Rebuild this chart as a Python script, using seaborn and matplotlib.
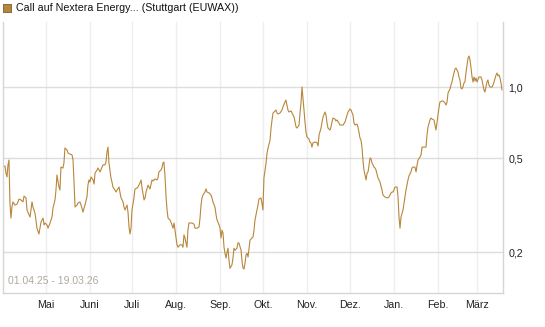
#! /usr/bin/env python3
# imports
import matplotlib
matplotlib.use('Agg')
import matplotlib.pyplot as plt
from matplotlib.patches import Rectangle
from matplotlib.ticker import FixedLocator, NullLocator
import numpy as np
import pandas as pd
import seaborn as sns

# data: days since 01.04.25 and price (EUR)
days = [
    0.0, 1.4, 2.1, 2.8, 3.5, 4.2, 4.9, 5.6, 6.3, 7.0, 8.4, 9.9, 11.3, 12.7, 14.1, 14.8,
    16.2, 16.9, 18.3, 19.0, 19.7, 20.4, 21.1, 22.5, 23.2, 23.9, 25.3, 26.0, 26.8, 28.2,
    28.9, 29.6, 31.0, 31.7, 33.1, 34.5, 35.2, 36.6, 37.3, 38.0, 39.4, 40.1, 40.8, 42.2,
    42.9, 43.6, 45.1, 45.8, 47.2, 48.6, 49.3, 50.0, 50.7, 52.1, 52.8, 54.2, 55.6, 56.3,
    57.7, 59.1, 59.8, 60.5,
    61.2, 62.0, 63.4, 64.1, 64.8, 66.2, 66.9, 68.3, 69.7, 70.4, 71.8, 72.5, 73.2, 73.9,
    74.6, 76.0, 76.7, 77.4, 78.8, 79.6, 80.3, 81.7, 82.4, 83.1, 84.5, 85.2, 85.9, 87.3,
    88.0, 88.7, 89.4, 90.1, 90.8, 92.2, 92.9, 94.3, 95.0, 96.4, 97.2, 97.9, 99.3, 100.0,
    100.7, 102.1, 102.8, 103.5, 104.9, 105.6, 107.0, 108.4, 109.1, 109.8, 111.2, 111.9,
    112.6, 113.3, 114.0, 114.8, 115.5, 116.2, 117.6, 119.0, 119.7, 120.4,
    121.8, 122.5, 123.2, 124.6, 126.0, 126.7, 127.4, 128.1, 129.5, 130.2, 130.9, 133.1,
    134.5, 135.2, 136.6, 138.0, 138.7, 139.4, 140.1, 140.8, 142.2, 142.9, 143.6, 145.0,
    146.4, 147.1, 147.8, 149.2, 150.0, 150.7, 152.1, 152.8, 153.5, 154.2, 154.9, 155.6,
    156.3, 157.0, 157.7, 158.4, 159.1, 159.8, 161.2, 161.9, 162.6, 163.3, 164.7, 165.4,
    166.1, 167.6, 168.3, 169.0, 169.7, 170.4, 171.1, 171.8, 172.5, 173.2, 173.9, 175.3,
    176.0, 176.7, 177.4, 178.8, 179.5, 180.2,
    181.6, 182.3, 183.0, 183.7, 185.2, 185.9, 186.6, 188.0, 188.7, 189.4, 190.1, 190.8,
    192.2, 192.9, 193.6, 195.0, 196.4, 197.1, 198.5, 199.2, 199.9, 200.6, 201.3, 202.8,
    203.5, 204.9, 205.6, 206.3, 207.0, 208.4, 209.1, 209.8, 210.5, 211.2, 211.9, 212.6,
    213.3, 214.0, 215.4, 216.1, 216.8, 217.5, 218.2, 219.6, 220.4, 221.1, 221.8, 222.5,
    223.9, 224.6, 225.3, 226.7, 227.4, 228.1, 228.8, 230.2, 230.9, 231.6, 232.3, 233.7,
    234.4, 235.1, 236.5, 237.2, 238.7, 239.4, 240.8,
    242.2, 242.9, 244.3, 245.0, 246.4, 247.1, 247.8, 249.2, 249.9, 250.6, 251.3, 252.0,
    252.7, 253.4, 254.1, 255.6, 256.3, 257.0, 257.7, 258.4, 259.1, 259.8, 261.2, 261.9,
    262.6, 264.0, 264.7, 265.4, 266.8, 267.5, 268.2, 268.9, 270.3, 271.0, 271.7, 273.2,
    273.9, 274.6, 276.0, 277.4, 278.1, 278.8, 279.5, 280.2, 281.6, 282.3, 283.0, 283.7,
    284.4, 285.1, 285.8, 287.2, 287.9, 288.6, 290.0, 290.8, 291.5, 292.2, 293.6, 294.3,
    295.0, 296.4, 297.8,
    298.5, 299.2, 300.6, 301.3, 302.0, 303.4, 304.1, 304.8, 305.5, 306.2, 306.9, 307.6,
    309.1, 309.8, 311.2, 311.9, 312.6, 313.3, 314.7, 315.4, 316.1, 316.8, 317.5, 318.2,
    318.9, 320.3, 321.0, 321.7, 322.4, 323.1, 323.8, 324.5, 325.2, 326.0, 326.7, 327.4,
    328.1, 328.8, 329.5, 330.2, 330.9, 331.6, 332.3, 333.0, 333.7, 335.1, 335.8, 336.5,
    337.2, 337.9, 338.6, 339.3, 340.0, 340.7, 341.4, 342.1, 342.8, 344.3, 345.0, 345.7,
    347.1, 347.8, 348.5, 349.2, 349.9, 350.6, 351.3,
]
price = [
    0.459, 0.464, 0.433, 0.417, 0.469, 0.492, 0.323, 0.279, 0.311, 0.327, 0.317, 0.320,
    0.336, 0.333, 0.327, 0.346, 0.340, 0.302, 0.288, 0.282, 0.302, 0.327, 0.311, 0.293,
    0.274, 0.253, 0.239, 0.253, 0.269, 0.279, 0.261, 0.266, 0.261, 0.253, 0.266, 0.282,
    0.308, 0.333, 0.367, 0.425, 0.378, 0.367, 0.459, 0.455, 0.478, 0.553, 0.542, 0.527,
    0.521, 0.517, 0.492, 0.397, 0.311, 0.317, 0.323, 0.327, 0.308, 0.296, 0.317, 0.343,
    0.385, 0.405,
    0.397, 0.417, 0.405, 0.389, 0.433, 0.446, 0.455, 0.438, 0.459, 0.469, 0.469, 0.482,
    0.532, 0.558, 0.478, 0.413, 0.397, 0.378, 0.367, 0.360, 0.367, 0.378, 0.357, 0.340,
    0.327, 0.311, 0.302, 0.317, 0.296, 0.256, 0.239, 0.253, 0.302, 0.340, 0.371, 0.374,
    0.378, 0.393, 0.405, 0.374, 0.333, 0.340, 0.360, 0.385, 0.378, 0.371, 0.405, 0.401,
    0.409, 0.405, 0.413, 0.438, 0.446, 0.455, 0.478, 0.482, 0.425, 0.343, 0.302, 0.279,
    0.274, 0.261, 0.253, 0.266,
    0.230, 0.215, 0.210, 0.215, 0.215, 0.210, 0.237, 0.230, 0.210, 0.248, 0.266, 0.266,
    0.263, 0.253, 0.253, 0.256, 0.279, 0.317, 0.340, 0.350, 0.360, 0.371, 0.360, 0.357,
    0.350, 0.340, 0.327, 0.311, 0.288, 0.274, 0.261, 0.253, 0.230, 0.248, 0.241, 0.210,
    0.198, 0.189, 0.200, 0.208, 0.185, 0.171, 0.177, 0.189, 0.208, 0.204, 0.208, 0.219,
    0.219, 0.204, 0.182, 0.171, 0.170, 0.180, 0.195, 0.198, 0.191, 0.208, 0.225, 0.230,
    0.232, 0.248, 0.274, 0.302, 0.317, 0.336,
    0.340, 0.323, 0.302, 0.413, 0.478, 0.527, 0.553, 0.598, 0.672, 0.727, 0.778, 0.786,
    0.801, 0.778, 0.771, 0.778, 0.801, 0.825, 0.866, 0.883, 0.841, 0.801, 0.786, 0.794,
    0.778, 0.748, 0.713, 0.679, 0.672, 0.692, 0.778, 0.858, 1.003, 0.901, 0.801, 0.713,
    0.646, 0.616, 0.604, 0.586, 0.581, 0.558, 0.581, 0.586, 0.586, 0.581, 0.564, 0.628,
    0.672, 0.713, 0.748, 0.786, 0.763, 0.706, 0.672, 0.659, 0.679, 0.713, 0.741, 0.734,
    0.720, 0.727, 0.706, 0.692, 0.692, 0.692, 0.713,
    0.763, 0.786, 0.809, 0.801, 0.763, 0.706, 0.692, 0.699, 0.679, 0.646, 0.610, 0.598,
    0.558, 0.492, 0.446, 0.405, 0.433, 0.438, 0.469, 0.502, 0.497, 0.478, 0.459, 0.455,
    0.446, 0.413, 0.405, 0.397, 0.367, 0.350, 0.346, 0.343, 0.340, 0.340, 0.343, 0.357,
    0.360, 0.360, 0.378, 0.378, 0.343, 0.282, 0.253, 0.282, 0.302, 0.323, 0.343, 0.367,
    0.385, 0.405, 0.421, 0.438, 0.455, 0.459, 0.459, 0.438, 0.469, 0.492, 0.507, 0.517,
    0.558, 0.558, 0.558,
    0.628, 0.679, 0.727, 0.741, 0.734, 0.727, 0.692, 0.659, 0.706, 0.763, 0.817, 0.866,
    0.875, 0.875, 0.858, 0.841, 0.866, 0.946, 0.984, 1.023, 1.053, 1.106, 1.150, 1.196,
    1.207, 1.161, 1.106, 1.074, 0.993, 0.984, 1.003, 1.043, 1.053, 1.161, 1.243, 1.331,
    1.357, 1.305, 1.207, 1.106, 1.053, 1.106, 1.063, 1.095, 1.053, 1.106, 1.106, 1.106,
    1.074, 1.023, 0.974, 0.955, 1.003, 1.053, 1.074, 1.023, 1.003, 1.003, 1.023, 1.053,
    1.128, 1.150, 1.117, 1.128, 1.095, 1.043, 0.974,
]
start = '2025-04-01'
end = '2026-03-19'
month_ticks = ['2025-05-01', '2025-06-01', '2025-07-01', '2025-08-01', '2025-09-01',
               '2025-10-01', '2025-11-01', '2025-12-01', '2026-01-01', '2026-02-01',
               '2026-03-01']
month_labels = ['Mai', 'Juni', 'Juli', 'Aug.', 'Sep.', 'Okt.', 'Nov.', 'Dez.',
                'Jan.', 'Feb.', 'März']
y_ticks = [0.2, 0.5, 1.0]
y_labels = ['0,2', '0,5', '1,0']
title = 'Call auf Nextera Energy... (Stuttgart (EUWAX))'
range_label = '01.04.25 - 19.03.26'

# settings
sns.set_style('white')
plt.rcParams['font.family'] = ['Liberation Sans', 'DejaVu Sans']
line_col = '#b8863b'

df = pd.DataFrame({'date': pd.Timestamp(start) + pd.to_timedelta(days, unit='D'),
                   'price': price})

# create plot
fig = plt.figure(figsize=(5.45, 3.27), dpi=100)
ax = fig.add_axes([3 / 545, 34 / 327, 500 / 545, 271 / 327])
sns.lineplot(data=df, x='date', y='price', ax=ax, estimator=None, sort=False,
             color=line_col, lw=0.8)
ax.set_yscale('log')
ax.set_ylim(0.1344, 1.891)
ax.set_xlim(pd.Timestamp(start), pd.Timestamp(end))

ax.yaxis.set_major_locator(FixedLocator(y_ticks))
ax.yaxis.set_minor_locator(NullLocator())
ax.set_yticklabels(y_labels)
ax.yaxis.tick_right()
ax.set_xticks(pd.to_datetime(month_ticks))
ax.set_xticklabels(month_labels)
ax.tick_params(axis='both', length=0, labelsize=7.7, colors='#222222')
ax.tick_params(axis='y', pad=4)
ax.tick_params(axis='x', pad=5)
ax.set_xlabel('')
ax.set_ylabel('')

ax.grid(axis='x', color='#eeeeee', lw=1)
ax.grid(axis='y', color='#dddddd', lw=1)
ax.set_axisbelow(True)
for side in ['left', 'right', 'bottom']:
    ax.spines[side].set_color('#d6d6d6')
    ax.spines[side].set_linewidth(1)
ax.spines['top'].set_visible(False)

# legend box + date range
fig.patches.append(Rectangle((3 / 545, 1 - 12 / 327), 8 / 545, 8 / 327,
                             transform=fig.transFigure, facecolor=line_col,
                             edgecolor='#7a5a2a', lw=0.6))
fig.text(16 / 545, 1 - 8 / 327, title, fontsize=7.7, va='center', ha='left',
         color='#111111')
ax.text(0.009, 0.025, range_label, transform=ax.transAxes, fontsize=7.5,
        color='#b0a89e', ha='left', va='bottom')

fig.savefig('out.png', dpi=100)
plt.close()
